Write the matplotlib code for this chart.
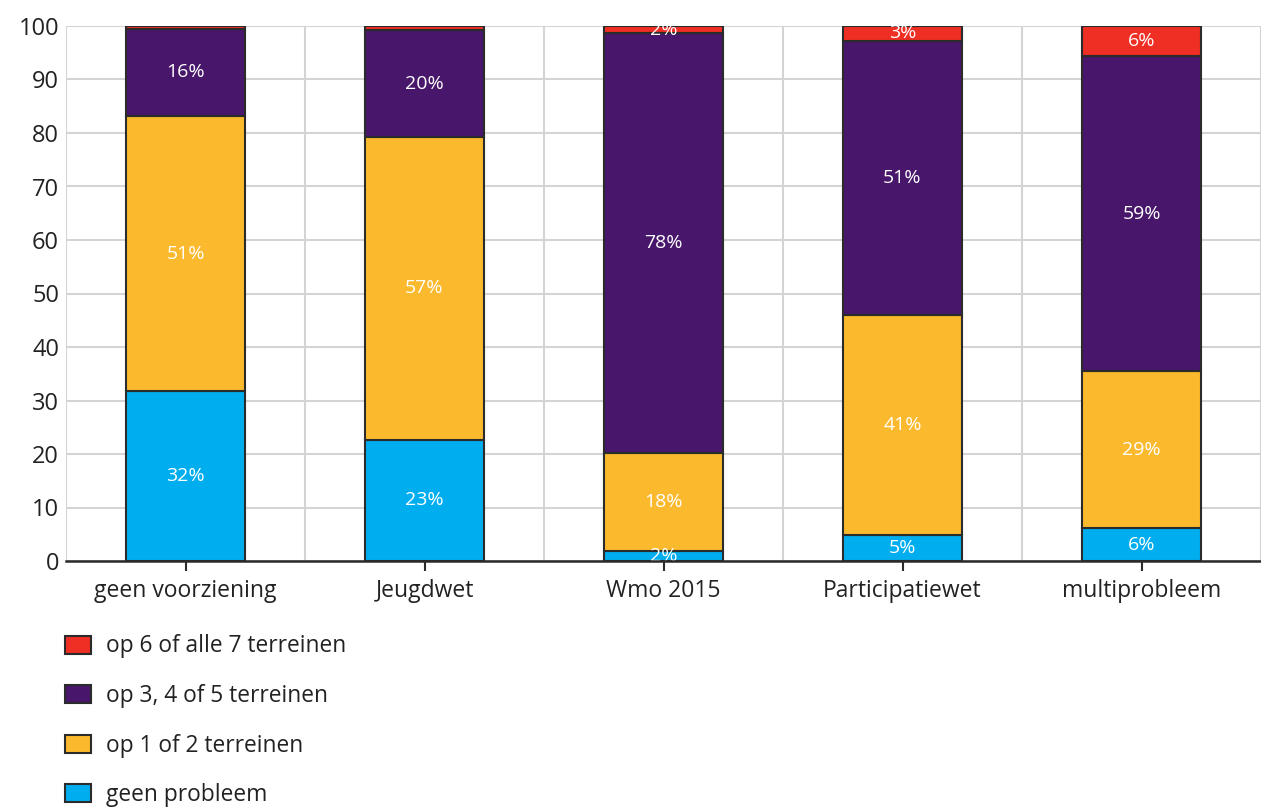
import matplotlib.pyplot as plt
from matplotlib.patches import Patch
import numpy as np

plt.rcParams['font.family'] = ['Open Sans', 'DejaVu Sans']

# categories and segment values (percent)
categories = ['geen voorziening', 'Jeugdwet', 'Wmo 2015', 'Participatiewet', 'multiprobleem']
geen_probleem = [31.7, 22.7, 1.8, 4.9, 6.1]
op_1_2 = [51.5, 56.6, 18.3, 41.1, 29.4]
op_3_5 = [16.3, 19.9, 78.5, 51.2, 58.9]
op_6_7 = [0.5, 0.8, 1.4, 2.8, 5.6]

# labels as printed in the chart
lab_geen = ['32%', '23%', '2%', '5%', '6%']
lab_12 = ['51%', '57%', '18%', '41%', '29%']
lab_35 = ['16%', '20%', '78%', '51%', '59%']
lab_67 = ['', '', '2%', '3%', '6%']

series_names = ['geen probleem', 'op 1 of 2 terreinen', 'op 3, 4 of 5 terreinen', 'op 6 of alle 7 terreinen']
colors = ['#00AEEF', '#FBBA2E', '#48176B', '#EF2E24']

series = [geen_probleem, op_1_2, op_3_5, op_6_7]
labels = [lab_geen, lab_12, lab_35, lab_67]

fig = plt.figure(figsize=(12.61, 8.11), dpi=100)
ax = fig.add_axes([66 / 1261, 1 - 561 / 811, 1 - 66 / 1261, (561 - 26) / 811])

x = np.arange(len(categories))
bottom = np.zeros(len(categories))
for vals, labs, col in zip(series, labels, colors):
    bars = ax.bar(x, vals, 0.5, bottom=bottom, color=col, edgecolor='#2b2b2b',
                  linewidth=1.5, zorder=3)
    ax.bar_label(bars, labels=labs, label_type='center', color='white',
                 fontsize=14, zorder=4)
    bottom += np.array(vals)

ax.set_xlim(-0.5, 4.455)
ax.set_ylim(0, 100)
ax.set_yticks(range(0, 101, 10))
ax.set_xticks(x)
ax.set_xticklabels(categories)
ax.set_xticks(np.arange(-0.5, 4.6, 1), minor=True)
ax.tick_params(axis='x', which='minor', length=0)
ax.tick_params(axis='x', which='major', length=7, width=1.5, color='#2b2b2b',
               labelsize=16.5, labelcolor='#222222', pad=6)
ax.tick_params(axis='y', length=0, labelsize=17, labelcolor='#222222', pad=5)
ax.grid(axis='y', color='#d4d4d4', linewidth=1.5, zorder=0)
ax.grid(axis='x', which='minor', color='#d4d4d4', linewidth=1.5, zorder=0)
ax.grid(axis='x', which='major', visible=False)
for s in ['top', 'right', 'left']:
    ax.spines[s].set_visible(False)
ax.spines['bottom'].set_linewidth(1.8)
ax.spines['bottom'].set_color('#2b2b2b')
ax.spines['bottom'].set_zorder(5)

handles = [Patch(facecolor=c, edgecolor='#2b2b2b', linewidth=1.5, label=n)
           for c, n in zip(colors, series_names)][::-1]
fig.legend(handles=handles, loc='upper left', bbox_to_anchor=(44 / 1261, 1 - 614 / 811),
           frameon=False, fontsize=16.4, labelspacing=1.12, handlelength=1.18,
           handleheight=0.85, handletextpad=0.65, labelcolor='#222222')

fig.savefig('out.png', dpi=100)
